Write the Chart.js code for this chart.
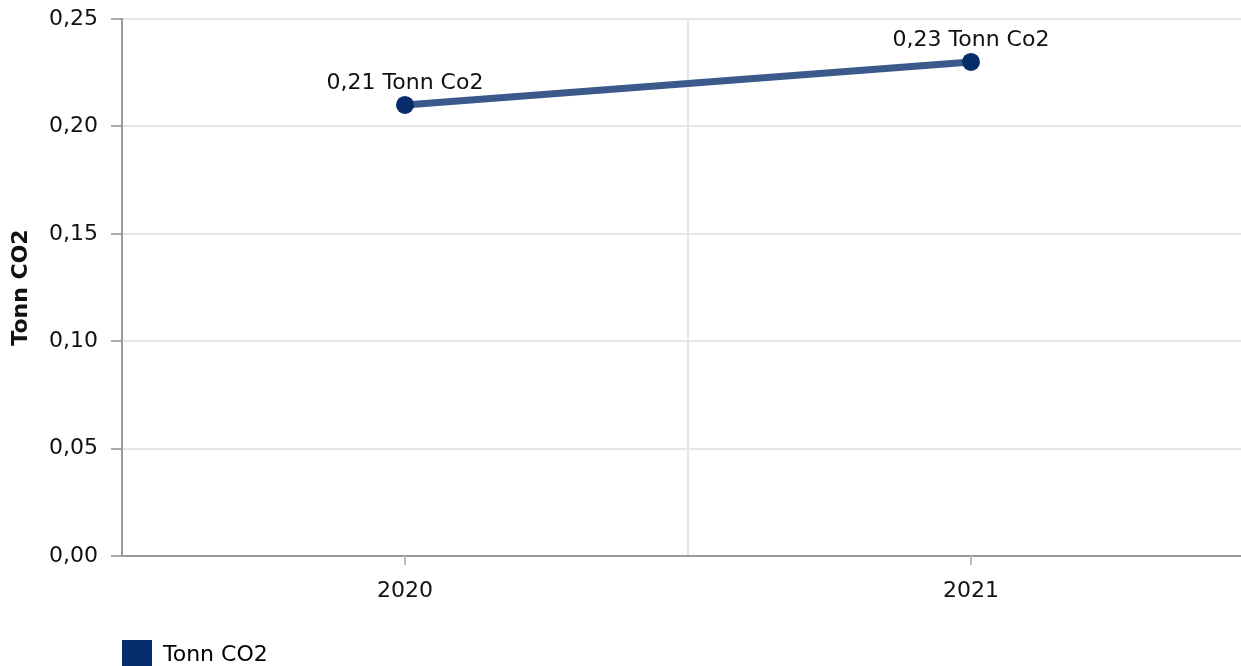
<!DOCTYPE html>
<html>
<head>
<meta charset="utf-8">
<script src="https://cdn.jsdelivr.net/npm/chart.js@4/dist/chart.umd.min.js"></script>
<style>
  html, body { margin: 0; padding: 0; background: #fff; overflow: hidden; }
  /* the plot runs slightly past the right and bottom edges of the window, like the original */
  #wrap { position: absolute; left: 0; top: 0; width: 1254px; height: 680px; }
</style>
</head>
<body>
<div id="wrap"><canvas id="co2Chart" width="1254" height="680"></canvas></div>
<script>
const years = ['2020', '2021'];
const tonnCo2 = [0.21, 0.23];
const yTicks = [0, 0.05, 0.10, 0.15, 0.20, 0.25];
const seriesName = 'Tonn CO2';
const labelUnit = 'Tonn Co2';

const lineColor = '#3b5a8b';
const pointColor = '#062c6b';
const gridColor = '#e6e6e6';
const axisColor = '#9a9a9a';
const fontFamily = 'Verdana, "DejaVu Sans", sans-serif';

const commaNum = function (v) {
    return Number(v).toFixed(2).replace('.', ',');
};

Chart.defaults.font.family = fontFamily;
Chart.defaults.font.size = 22;
Chart.defaults.color = '#111';

// labels over each point, e.g. "0,21 Tonn Co2"
const pointLabels = {
    id: 'pointLabels',
    afterDatasetsDraw(chart) {
        const ctx = chart.ctx;
        const meta = chart.getDatasetMeta(0);
        ctx.save();
        ctx.font = '22px ' + fontFamily;
        ctx.fillStyle = '#111';
        ctx.textAlign = 'center';
        ctx.textBaseline = 'alphabetic';
        meta.data.forEach(function (pt, i) {
            ctx.fillText(commaNum(tonnCo2[i]) + ' ' + labelUnit, pt.x, pt.y - 16);
        });
        ctx.restore();
    }
};

// small tick marks under the category centres (grid lines sit between categories)
const xTickMarks = {
    id: 'xTickMarks',
    afterDraw(chart) {
        const ctx = chart.ctx;
        const xs = chart.scales.x;
        ctx.save();
        ctx.strokeStyle = '#bdbdbd';
        ctx.lineWidth = 2;
        years.forEach(function (_, i) {
            const x = Math.round(xs.getPixelForValue(i));
            ctx.beginPath();
            ctx.moveTo(x, xs.top);
            ctx.lineTo(x, xs.top + 9);
            ctx.stroke();
        });
        ctx.restore();
    }
};

// move the legend so it starts under the y axis line
const legendShift = {
    id: 'legendShift',
    afterLayout(chart) {
        if (chart.legend) {
            chart.legend.left = chart.chartArea.left - 10;
        }
    }
};

new Chart(document.getElementById('co2Chart'), {
    type: 'line',
    data: {
        labels: years,
        datasets: [{
            label: seriesName,
            data: tonnCo2,
            borderColor: lineColor,
            backgroundColor: pointColor,
            borderWidth: 7,
            pointRadius: 9,
            pointHoverRadius: 9,
            pointBackgroundColor: pointColor,
            pointBorderColor: pointColor,
            pointBorderWidth: 0,
            tension: 0,
            fill: false
        }]
    },
    options: {
        responsive: false,
        animation: false,
        layout: {
            autoPadding: false,
            padding: { top: 19, right: 0, bottom: 0, left: 0 }
        },
        plugins: {
            legend: {
                position: 'bottom',
                align: 'start',
                labels: {
                    boxWidth: 30,
                    boxHeight: 30,
                    padding: 10,
                    color: '#111',
                    font: { size: 22 },
                    generateLabels: function () {
                        return [{
                            text: seriesName,
                            fillStyle: pointColor,
                            strokeStyle: pointColor,
                            lineWidth: 0,
                            datasetIndex: 0
                        }];
                    }
                }
            },
            tooltip: { enabled: false }
        },
        scales: {
            x: {
                type: 'category',
                offset: true,
                grid: {
                    offset: true,
                    color: gridColor,
                    lineWidth: 2,
                    drawTicks: false
                },
                border: { display: true, color: axisColor, width: 2 },
                ticks: { padding: 22, color: '#111', font: { size: 22 } },
                afterFit: function (scale) {
                    scale.height = 74;
                    scale.paddingLeft = 0;
                    scale.paddingRight = 0;
                }
            },
            y: {
                min: 0,
                max: 0.25,
                afterBuildTicks: function (scale) {
                    scale.ticks = yTicks.map(function (v) { return { value: v }; });
                },
                ticks: {
                    padding: 13,
                    color: '#111',
                    font: { size: 22 },
                    callback: function (value) { return commaNum(value); }
                },
                grid: {
                    color: gridColor,
                    lineWidth: 2,
                    tickColor: '#aaaaaa',
                    tickLength: 11
                },
                border: { display: true, color: axisColor, width: 2 },
                title: {
                    display: true,
                    text: seriesName,
                    color: '#111',
                    font: { size: 22, weight: 'bold' },
                    padding: { top: 8, bottom: 0 }
                },
                afterFit: function (scale) {
                    scale.width = 122;
                    scale.paddingTop = 0;
                    scale.paddingBottom = 0;
                }
            }
        }
    },
    plugins: [pointLabels, xTickMarks, legendShift]
});
</script>
</body>
</html>
